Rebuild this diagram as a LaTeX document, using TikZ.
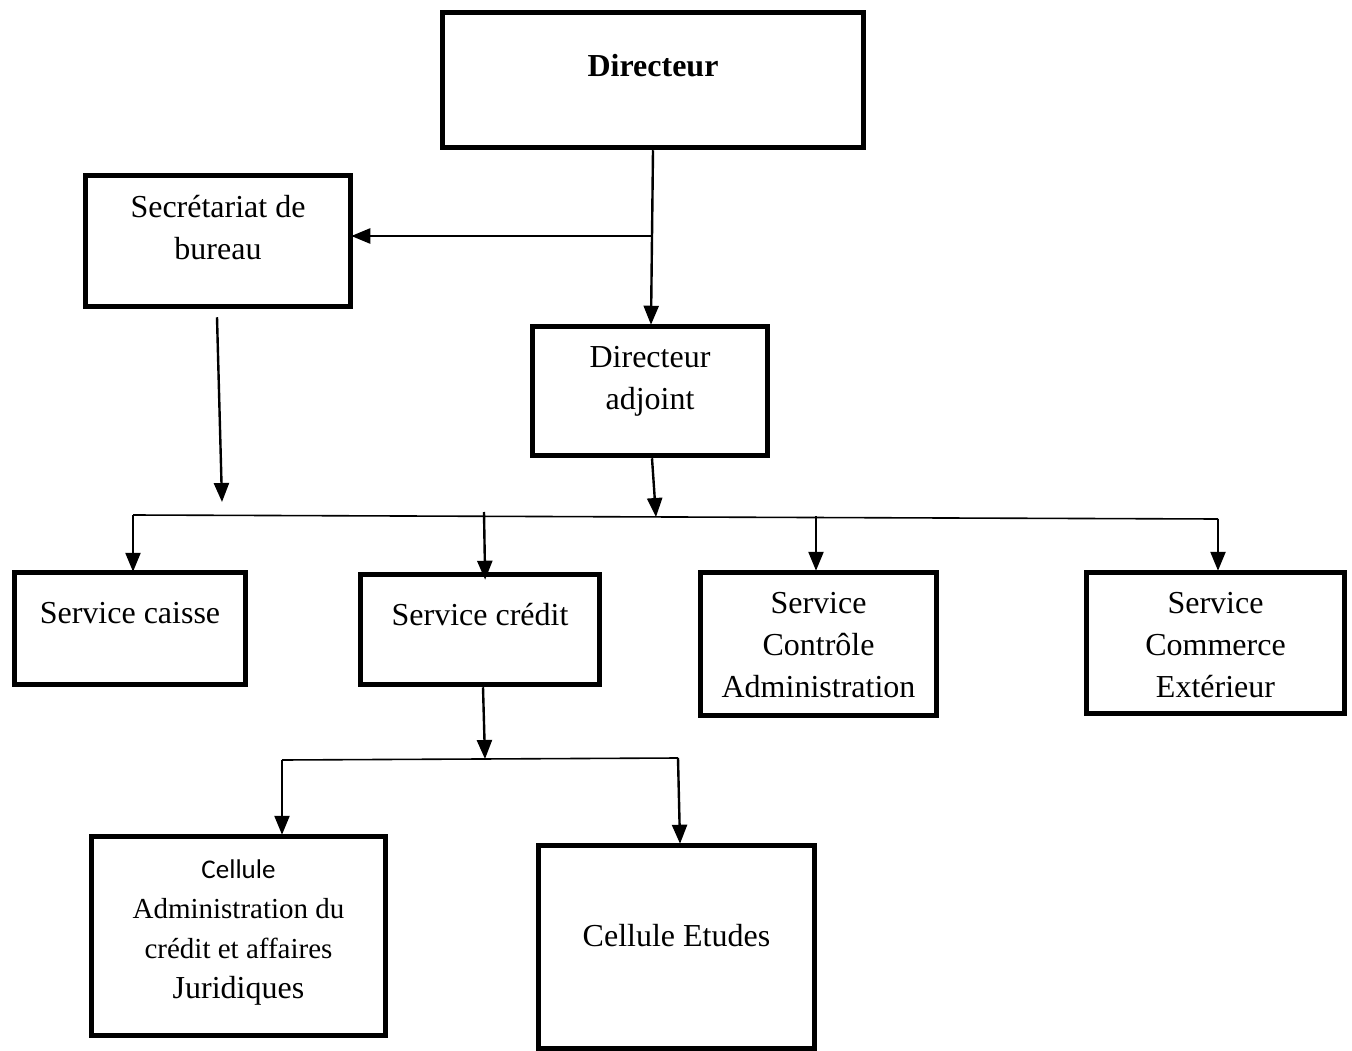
\documentclass[tikz,border=0pt]{standalone}
\usepackage{fontspec}
\setmainfont{Liberation Serif}
\newfontfamily\calib{Carlito}
\usetikzlibrary{arrows.meta,calc}
\begin{document}
\begin{tikzpicture}[x=1pt,y=-1pt,
  box/.style={draw=black,line width=5.5pt,rectangle,inner sep=0pt,fill=white},
  txt/.style={font=\fontsize{32}{42}\selectfont,align=center,inner sep=0pt},
  arr/.style={line width=2.4pt,-{Triangle[length=19pt,width=15pt]}},
  bus/.style={line width=1.6pt}]
\useasboundingbox[fill=white] (0,0) rectangle (1352,1051);
% boxes
\node[box,minimum width=421pt,minimum height=135pt,
  label={[txt,font=\fontsize{32}{42}\selectfont\bfseries,yshift=14pt]center:Directeur}] (dir) at (653,80) {};
\node[box,minimum width=265pt,minimum height=131pt,
  label={[txt,yshift=13pt]center:Secrétariat de\\bureau}] (sec) at (218,241) {};
\node[box,minimum width=235pt,minimum height=129pt,
  label={[txt,yshift=10pt]center:Directeur\\adjoint}] (adj) at (650,391) {};
\node[box,minimum width=231pt,minimum height=112pt,
  label={[txt,yshift=15pt]center:Service caisse}] (caisse) at (130,628.5) {};
\node[box,minimum width=239pt,minimum height=110pt,
  label={[txt,yshift=15pt]center:Service crédit}] (credit) at (480,629.5) {};
\node[box,minimum width=236pt,minimum height=143pt,
  label={[txt,yshift=-1pt]center:Service\\Contrôle\\Administration}] (ctrl) at (818.5,644) {};
\node[box,minimum width=258pt,minimum height=141pt,
  label={[txt,yshift=-2pt]center:Service\\Commerce\\Extérieur}] (comm) at (1215.5,643) {};
\node[box,minimum width=294pt,minimum height=199pt,
  label={[txt,font=\fontsize{29}{40}\selectfont,yshift=3.5pt]center:{\calib\fontsize{27}{40}\selectfont Cellule}\\Administration du\\crédit et affaires\\{\fontsize{32}{40}\selectfont Juridiques}}] (cadm) at (238.5,936) {};
\node[box,minimum width=276pt,minimum height=203pt,
  label={[txt,yshift=11pt]center:Cellule Etudes}] (cet) at (676.5,947) {};
% junctions / free ends
\coordinate (j1) at (652,236);
\coordinate (secend) at (222,502);
\coordinate (bL) at (133,515);
\coordinate (bM) at (656,517);
\coordinate (bR) at (1218,519);
\coordinate (d2) at (484,512);
\coordinate (d3) at (816,516);
\coordinate (c2) at (485,759);
\coordinate (cL) at (282,760);
\coordinate (cR) at (678,758);
% connectors
\draw[arr,shorten >=-1pt] (dir.south) -- ([xshift=1pt]adj.north);
\draw[arr,shorten >=-2pt] (j1) -- (j1 -| sec.east);
\draw[arr] ([xshift=-1pt,yshift=-8pt]sec.south) -- (secend);
\draw[arr] ([xshift=2pt]adj.south) -- (bM);
\draw[bus] (bL) -- (bR);
\draw[arr,shorten >=-2pt] (bL) -- (bL |- caisse.north);
\draw[arr,shorten >=-8pt] (d2) -- ([xshift=5pt]credit.north);
\draw[arr,shorten >=-1pt] (d3) -- ([xshift=-2.5pt]ctrl.north);
\draw[arr,shorten >=-1pt] (bR) -- (bR |- comm.north);
\draw[arr] ([xshift=3pt]credit.south) -- (c2);
\draw[bus] (cL) -- (cR);
\draw[arr,shorten >=-1pt] (cL) -- (cL |- cadm.north);
\draw[arr,shorten >=-1pt] (cR) -- ([xshift=3.5pt]cet.north);
\end{tikzpicture}
\end{document}
